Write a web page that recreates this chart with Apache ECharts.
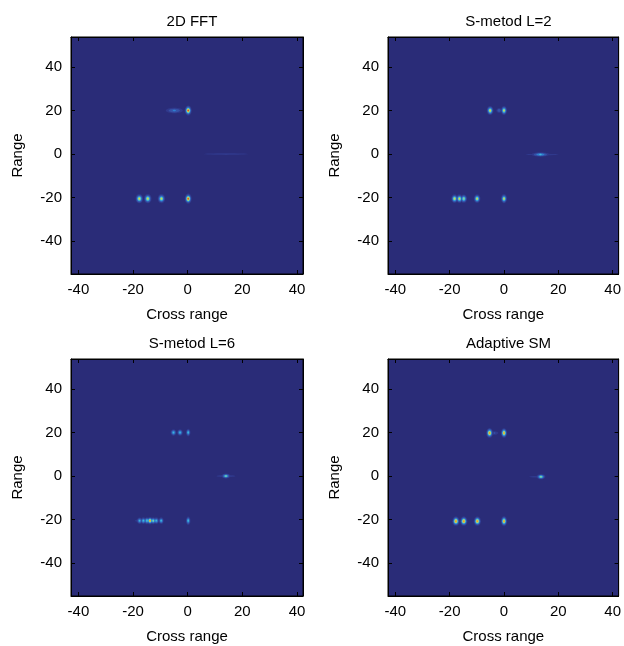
<!DOCTYPE html>
<html>
<head>
<meta charset="utf-8">
<title>Radar images</title>
<script src="https://cdn.jsdelivr.net/npm/echarts@6/dist/echarts.min.js"></script>
<style>
    html, body { margin: 0; padding: 0; background: #fff; }
    #chart { width: 624px; height: 646px; }
</style>
</head>
<body>
<div id="chart"></div>
<script>
/*
 * 4 radar images (2D FFT / S-method / adaptive SM)
 */
var panelTitles = ["2D FFT", "S-metod L=2", "S-metod L=6", "Adaptive SM"];
var xTicks = [-40, -20, 0, 20, 40];
var yTicks = [-40, -20, 0, 20, 40];
var xRange = [-42.7, 42.2];
var yRange = [-55.1, 53.8];

// [cross range, range, peak, spread cross range, spread range]
var fftSpots = [
    [-17.7, -20.5, 0.76, 0.62, 0.95],
    [-14.6, -20.5, 0.76, 0.62, 0.95],
    [-9.6, -20.5, 0.72, 0.62, 0.95],
    [0.2, -20.5, 0.96, 0.55, 1.0],
    [0.2, 20.0, 0.96, 0.55, 1.0],
    [-4.9, 20.0, 0.32, 1.7, 0.7],
    [14.0, 0.0, 0.10, 8.0, 0.35]
];
var sm2Spots = [
    [-18.2, -20.5, 0.74, 0.55, 0.9],
    [-16.4, -20.5, 0.76, 0.55, 0.9],
    [-14.8, -20.5, 0.68, 0.55, 0.9],
    [-9.9, -20.5, 0.74, 0.55, 0.9],
    [0.0, -20.5, 0.74, 0.5, 0.95],
    [-5.1, 20.0, 0.78, 0.55, 0.95],
    [-1.8, 20.0, 0.24, 0.6, 0.7],
    [0.0, 20.0, 0.74, 0.5, 0.95],
    [14.0, -0.2, 0.10, 6.0, 0.35],
    [13.4, -0.2, 0.47, 1.6, 0.5]
];
var sm6Spots = [
    [-14.6, -20.5, 0.30, 2.6, 0.55],
    [-17.6, -20.5, 0.47, 0.5, 0.75],
    [-16.2, -20.5, 0.52, 0.5, 0.75],
    [-14.9, -20.5, 0.57, 0.5, 0.75],
    [-13.8, -20.5, 0.86, 0.5, 0.75],
    [-12.6, -20.5, 0.62, 0.5, 0.75],
    [-11.5, -20.5, 0.52, 0.5, 0.75],
    [-9.7, -20.5, 0.52, 0.45, 0.75],
    [0.2, -20.5, 0.52, 0.4, 0.95],
    [-5.2, 20.0, 0.52, 0.5, 0.75],
    [-2.8, 20.0, 0.52, 0.5, 0.75],
    [0.2, 20.0, 0.52, 0.4, 0.85],
    [14.0, 0.0, 0.15, 2.6, 0.4],
    [14.0, 0.0, 0.60, 0.75, 0.55]
];
var adaptiveSpots = [
    [-17.7, -20.7, 0.92, 0.58, 0.95],
    [-14.8, -20.7, 0.92, 0.58, 0.95],
    [-9.8, -20.7, 0.90, 0.58, 0.95],
    [0.0, -20.7, 0.88, 0.5, 1.0],
    [-3.5, 19.8, 0.16, 1.0, 0.6],
    [-5.3, 19.8, 0.90, 0.55, 1.0],
    [0.0, 19.8, 0.88, 0.5, 1.0],
    [11.5, -0.3, 0.10, 2.2, 0.35],
    [13.6, -0.3, 0.66, 0.75, 0.55]
];
var panelSpots = [fftSpots, sm2Spots, sm6Spots, adaptiveSpots];

// colour levels (fraction of peak -> colour), jet-like over navy
var LEVELS = [
    [0.06, "#30398c"],
    [0.15, "#3552a8"],
    [0.30, "#2f7fcf"],
    [0.45, "#3fb7d8"],
    [0.58, "#86d29a"],
    [0.70, "#d9d843"],
    [0.82, "#ea9a30"],
    [0.92, "#d8452a"]
];

var BG = "#2a2c78";
var FONT = "'Liberation Sans', Arial, sans-serif";
var grids = [
    {left: 71, top: 37, width: 232, height: 237},
    {left: 388, top: 37, width: 231, height: 237},
    {left: 71, top: 359, width: 232, height: 237},
    {left: 388, top: 359, width: 231, height: 237}
];

function renderSpot(params, api) {
    var center = api.coord([api.value(0), api.value(1)]);
    var peak = api.value(2);
    var size = api.size([api.value(3), api.value(4)]);
    var children = [];
    for (var i = 0; i < LEVELS.length; i++) {
        var lv = LEVELS[i];
        if (lv[0] >= peak) break;
        var k = Math.sqrt(2 * Math.log(peak / lv[0]));
        children.push({
            type: "ellipse",
            z2: i + 1,
            shape: {
                cx: center[0],
                cy: center[1],
                rx: Math.max(size[0] * k, 0.8),
                ry: Math.max(size[1] * k, 0.8)
            },
            style: {fill: lv[1]}
        });
    }
    return {type: "group", children: children};
}

function mainXAxis(i) {
    return {
        type: "value", gridIndex: i, position: "bottom",
        min: xRange[0], max: xRange[1],
        name: "Cross range", nameLocation: "middle", nameGap: 33,
        nameTextStyle: {color: "#000", fontSize: 15, fontFamily: FONT},
        axisLine: {show: true, onZero: false, lineStyle: {color: "#000", width: 1}},
        axisTick: {show: true, inside: true, length: 4, customValues: xTicks, lineStyle: {color: "#000"}},
        axisLabel: {show: true, margin: 8, customValues: xTicks, color: "#000", fontSize: 15, fontFamily: FONT},
        splitLine: {show: false}
    };
}

function mainYAxis(i) {
    return {
        type: "value", gridIndex: i, position: "left",
        min: yRange[0], max: yRange[1],
        name: "Range", nameLocation: "middle", nameGap: 46,
        nameTextStyle: {color: "#000", fontSize: 15, fontFamily: FONT},
        axisLine: {show: true, onZero: false, lineStyle: {color: "#000", width: 1}},
        axisTick: {show: true, inside: true, length: 4, customValues: yTicks, lineStyle: {color: "#000"}},
        axisLabel: {show: true, margin: 9, customValues: yTicks, color: "#000", fontSize: 15, fontFamily: FONT},
        splitLine: {show: false}
    };
}

// box axes (top / right) with ticks only
function boxAxis(i, type) {
    var isX = type == "x";
    return {
        type: "value", gridIndex: i, position: isX ? "top" : "right",
        min: isX ? xRange[0] : yRange[0], max: isX ? xRange[1] : yRange[1],
        axisLine: {show: true, onZero: false, lineStyle: {color: "#000", width: 1}},
        axisTick: {show: true, inside: true, length: 4, customValues: isX ? xTicks : yTicks, lineStyle: {color: "#000"}},
        axisLabel: {show: false},
        splitLine: {show: false}
    };
}

var option = {
    backgroundColor: "#fff",
    animation: false,
    title: [],
    grid: [],
    xAxis: [],
    yAxis: [],
    series: []
};

for (var i = 0; i < 4; i++) {
    var g = grids[i];
    option.grid.push({
        left: g.left, top: g.top, width: g.width, height: g.height,
        show: true, backgroundColor: BG, borderColor: "#000", borderWidth: 1
    });
    option.title.push({
        text: panelTitles[i],
        left: g.left + g.width / 2,
        top: g.top - 28,
        textAlign: "center",
        textStyle: {color: "#000", fontSize: 15, fontWeight: "normal", fontFamily: FONT}
    });
    option.xAxis.push(mainXAxis(i));
    option.xAxis.push(boxAxis(i, "x"));
    option.yAxis.push(mainYAxis(i));
    option.yAxis.push(boxAxis(i, "y"));
    option.series.push({
        type: "custom",
        name: panelTitles[i],
        xAxisIndex: 2 * i,
        yAxisIndex: 2 * i,
        renderItem: renderSpot,
        data: panelSpots[i],
        silent: true
    });
}

var chart = echarts.init(document.getElementById("chart"), null, {renderer: "canvas"});
chart.setOption(option);
</script>
</body>
</html>
